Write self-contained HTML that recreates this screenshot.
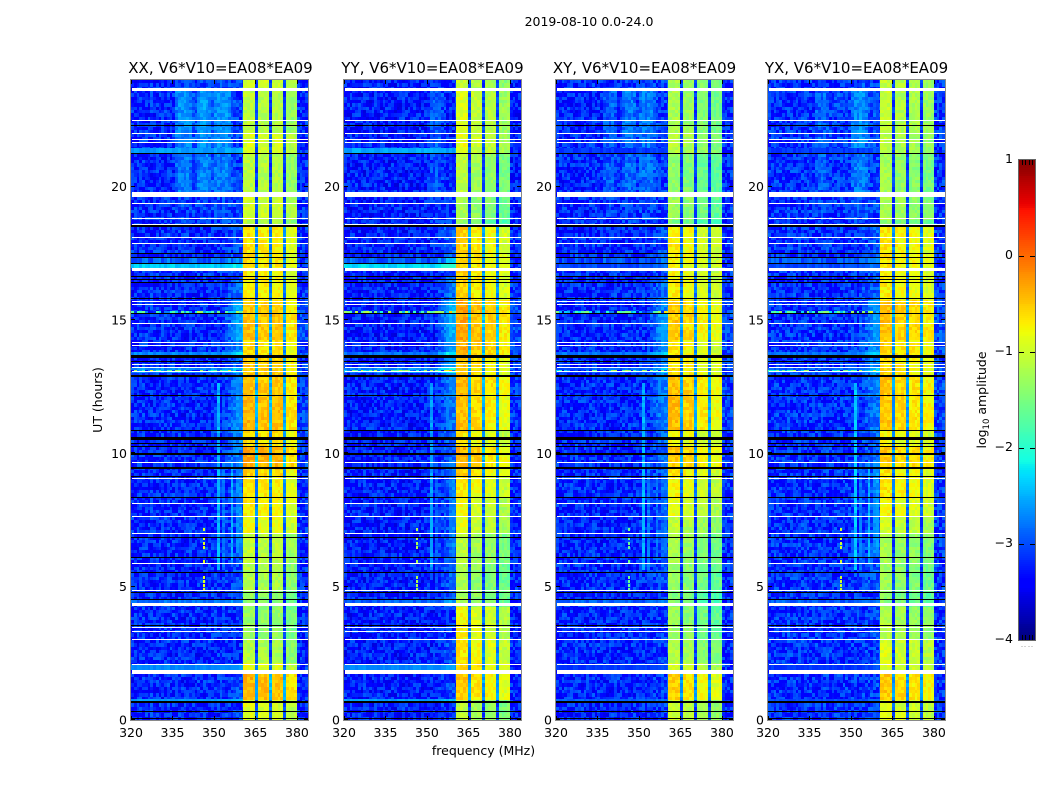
<!DOCTYPE html>
<html lang="en">
<head>
<meta charset="utf-8">
<title>2019-08-10 spectrogram</title>
<style>
html,body{margin:0;padding:0;background:#fff;}
svg{display:block;}
text{font-family:"DejaVu Sans","Liberation Sans",sans-serif;fill:#000;}
</style>
</head>
<body>
<svg id="chart" xmlns="http://www.w3.org/2000/svg" width="1050" height="800" viewBox="0 0 1050 800">
  <text x="589" y="26" font-size="12.5" text-anchor="middle">2019-08-10 0.0-24.0</text>
  <text x="483.5" y="755" font-size="12.5" text-anchor="middle">frequency (MHz)</text>
  <text transform="translate(102,400) rotate(-90)" font-size="12.5" text-anchor="middle">UT (hours)</text>
  <text transform="translate(986,400) rotate(-90)" font-size="12.5" text-anchor="middle">log<tspan font-size="8.5" dy="3">10</tspan><tspan dy="-3"> amplitude</tspan></text>
  <g id="panels"></g>
  <g id="colorbar"></g>
</svg>
<script>
/* ---------- chart values ---------- */
const panelTitles = ['XX, V6*V10=EA08*EA09','YY, V6*V10=EA08*EA09','XY, V6*V10=EA08*EA09','YX, V6*V10=EA08*EA09'];
const xTickLabels = [320,335,350,365,380];
const yTickLabels = [0,5,10,15,20];
const colorbarTicks = [1,0,-1,-2,-3,-4];
const colorMin = -4;
const colorMax = 1;
const freqMin = 320;
const freqMax = 384;
const hourMin = 0;
const hourMax = 24;

/* upper hour of every time segment */
const segmentTops = [0.72,1.73,2.09,3.03,4.28,4.9,5.9,7.0,7.64,8.35,9.1,9.5,10.3,10.85,12.16,12.9,13.6,14.2,15.3,15.8,16.5,17.0,18.5,18.8,19.6,21.2,22.0,23.6,24];

/* log10 amplitude of the 360-380 MHz band in each segment */
const bandLevelXX = [-0.95,-0.45,-0.9,-1.2,-1.35,-1.4,-1.2,-1.1,-0.85,-0.75,-0.7,-0.6,-0.4,-0.65,-0.45,-0.5,-0.55,-0.65,-0.5,-0.55,-0.75,-0.75,-0.7,-1.2,-1.0,-1.15,-0.95,-1.15,-1.0];
const bandLevelYY = [-1.2,-0.6,-0.65,-0.75,-0.85,-1.3,-1.3,-1.2,-0.95,-0.9,-0.75,-0.65,-0.5,-0.8,-0.55,-0.5,-0.6,-0.45,-0.4,-0.4,-0.65,-0.65,-0.65,-1.5,-1.3,-1.2,-0.95,-1.0,-1.1];
const bandLevelXY = [-1.1,-0.65,-1.0,-1.25,-1.4,-1.55,-1.4,-1.3,-1.15,-0.95,-0.85,-0.75,-0.6,-0.85,-0.55,-0.55,-0.7,-0.75,-0.6,-0.6,-0.8,-0.85,-0.8,-1.6,-1.4,-1.45,-1.2,-1.3,-1.3];
const bandLevelYX = [-0.95,-0.6,-1.0,-1.0,-1.25,-1.5,-1.4,-1.3,-1.05,-0.85,-0.75,-0.75,-0.6,-0.85,-0.6,-0.6,-0.7,-0.65,-0.55,-0.55,-0.8,-0.8,-0.75,-1.5,-1.3,-1.35,-1.2,-1.15,-1.15];

/* offset of the four sub-bands */
const subbandOffsetXX = [0.05,0,0,-0.2];
const subbandOffsetYY = [0.1,-0.05,-0.15,-0.3];
const subbandOffsetXY = [0.1,0,-0.15,-0.25];
const subbandOffsetYX = [0.1,0,-0.05,-0.15];

/* receiver floor per panel */
const floorLevel = [-3.2,-3.25,-3.2,-3.15];

/* rise below the band edge per segment */
const edgeHumpXX = [0.1,0.2,0.1,0,0,0.15,0.2,0.2,0.2,0.2,0.2,0.3,0.45,0.5,0.5,0.45,0.35,0.5,0.65,0.65,0.35,0.2,0.2,0.2,0.1,0.1,0.1,0.1,0.1];
const edgeHumpYY = [0.1,0.2,0.1,0.3,0.1,0.3,0.3,0.3,0.3,0.3,0.3,0.35,0.35,0.35,0.45,0.5,0.6,0.65,0.75,0.75,0.45,0.3,0.35,0.2,0.1,0,0,0,0];
const edgeHumpXY = [0.1,0.1,0.1,0.1,0.1,0.1,0.2,0.2,0.2,0.2,0.25,0.25,0.35,0.35,0.45,0.45,0.45,0.5,0.6,0.5,0.35,0.2,0.2,0.1,0.1,0.1,0.1,0.1,0.1];
const edgeHumpYX = [0.1,0.1,0.1,0.1,0.1,0.1,0.2,0.2,0.2,0.2,0.2,0.25,0.25,0.25,0.35,0.45,0.45,0.45,0.5,0.5,0.25,0.2,0.2,0.1,0.1,0.1,0.1,0.1,0.1];

/* strength of the broad interference stripes per segment */
const broadHumpBySegment = [0,0,0,0,0,0,0,0,0,0,0,0,0,0,0,0,0,0,0,0,0,0,0,0.2,0.3,0.8,0.9,1,0.25];

/* one entry per 1 MHz channel */
const channelKind = [0,0,0,0,0,0,0,0,0,0,0,0,0,0,0,0,0,0,0,0,0,0,0,0,0,0,0,0,0,0,0,0,0,0,0,0,0,0,0,0,0,1,1,1,1,5,2,2,2,2,5,3,3,3,3,5,4,4,4,4,0,0,0,0];
const edgeProfile = [0,0,0,0,0,0,0,0,0,0,0,0,0,0,0,0,0,0,0,0,0,0,0,0,0,0,0,0,0,0,0,0,0,0.1,0.3,0.5,0.7,0.9,1,1,1,0,0,0,0,0,0,0,0,0,0,0,0,0,0,0,0,0,0,0,0.3,0.35,0.35,0.3];
const stripeXX = [0,0,0,0,0,0,0,0,0,0,0,0,0,0,0,0,0.45,0.55,0.55,0.55,0.55,0.45,0.25,0.25,0.5,0.6,0.65,0.6,0.5,0.3,0.5,0.55,0.55,0.55,0.55,0.45,0.2,0.1,0,0,0,0,0,0,0,0,0,0,0,0,0,0,0,0,0,0,0,0,0,0,0,0,0,0];
const stripeYY = [0,0,0,0,0,0,0,0,0,0,0,0,0,0,0,0,0,0,0,0,0,0,0,0,0,0,0,0,0,0,0.05,0.25,0.35,0.35,0.3,0.2,0.15,0.05,0,0,0,0,0,0,0,0,0,0,0,0,0,0,0,0,0,0,0,0,0,0,0,0,0,0];
const stripeXY = [0,0,0,0,0,0,0,0,0,0,0,0,0,0,0,0,0,0.25,0.3,0.3,0.3,0.25,0.1,0.1,0.3,0.45,0.45,0.45,0.35,0.15,0.35,0.45,0.45,0.45,0.4,0.3,0.1,0,0,0,0,0,0,0,0,0,0,0,0,0,0,0,0,0,0,0,0,0,0,0,0,0,0,0];
const stripeYX = [0,0,0,0,0,0,0,0,0,0,0,0,0,0,0,0,0,0.2,0.25,0.25,0.25,0.2,0.1,0.05,0.05,0.1,0.1,0.1,0.1,0.05,0.3,0.45,0.5,0.5,0.45,0.35,0.1,0,0,0,0,0,0,0,0,0,0,0,0,0,0,0,0,0,0,0,0,0,0,0,0,0,0,0];

/* narrow vertical lines */
const lineChannels = [31,33,36,38,39];
const lineFromHour = [5.6,5.6,5.9,6.2,6.2];
const lineToHour = [12.6,9.6,9.6,9.6,9.6];
const lineLevelXX = [-2.5,-2.8,-2.5,-2.7,-2.7];
const lineLevelYY = [-2.6,-2.9,-3.0,-2.8,-2.7];
const lineLevelXY = [-2.5,-2.8,-2.8,-2.9,-2.8];
const lineLevelYX = [-2.4,-2.8,-2.5,-2.7,-2.6];

/* isolated interference spots */
const spotChannel = 26;
const spotHours = [4.85,5.0,5.12,5.3,5.9,6.4,6.55,6.75,7.1];
const spotLevel = [-0.9,-1.2,-1.6,-1.0];

/* full-width brighter rows below the band */
const brightFrom = [0.72,1.88,4.40,13.0,13.62,15.27,16.95,17.13,21.23,13.06];
const brightTo = [0.80,2.09,4.53,13.2,13.8,15.33,17.13,17.35,21.45,13.12];
const brightLevelXX = [-2.6,-2.7,-2.8,-2.7,-2.7,-2.4,-2.35,-2.9,-2.6,-2.2];
const brightLevelYY = [-2.6,-2.7,-2.9,-2.7,-2.8,-2.4,-2.3,-2.9,-2.55,-2.1];
const brightLevelXY = [-2.9,-3.1,-2.9,-2.9,-2.8,-2.5,-3.0,-3.0,-3.1,-2.4];
const brightLevelYX = [-3.0,-3.1,-2.9,-2.9,-2.8,-2.5,-3.0,-3.0,-3.1,-2.4];
const brightNoise = [0.2,0.2,0.4,0.4,0.3,3,0.3,0.6,0.25,3];

/* flagged intervals in hours */
const whiteFrom = [23.59,22.47,21.98,21.76,21.64,19.61,19.36,18.79,18.57,18.08,17.86,16.84,15.68,15.57,14.86,14.14,14.03,13.32,13.20,13.04,9.64,9.04,8.11,7.62,6.98,5.86,4.84,4.28,3.46,3.30,3.01,2.07,1.73];
const whiteTo = [23.70,22.51,22.02,21.80,21.68,19.81,19.40,18.83,18.61,18.12,17.90,16.95,15.72,15.61,14.90,14.18,14.07,13.36,13.24,13.08,9.68,9.08,8.15,7.66,7.02,5.90,4.88,4.40,3.50,3.34,3.05,2.11,1.88];
const blackFrom = [22.28,21.21,18.48,17.48,17.33,17.11,16.60,16.51,16.37,15.79,15.23,13.58,13.42,12.87,12.14,10.83,10.51,10.36,10.22,9.92,9.40,9.10,8.33,6.83,6.08,5.52,4.77,4.51,3.53,0.63,0.31,0.03];
const blackTo = [22.32,21.25,18.56,17.52,17.37,17.15,16.64,16.55,16.44,15.83,15.27,13.67,13.46,12.95,12.18,10.87,10.61,10.40,10.26,10.00,9.48,9.14,8.37,6.87,6.12,5.56,4.81,4.55,3.57,0.72,0.35,0.08];

/* hand-typed receiver-noise offsets used as cell texture */
const speckle = [0.12,-0.31,0.27,-0.08,0.38,-0.22,0.05,-0.41,0.19,0.33,-0.14,-0.36,0.09,0.24,-0.27,0.41,-0.05,-0.18,0.31,-0.39,0.16,0.02,-0.29,0.35,-0.11,0.21,-0.44,0.07,0.29,-0.2,0.14,-0.33,0.4,-0.02,-0.25,0.23,-0.37,0.1,0.34,-0.16,-0.06,0.26,-0.43,0.18,0.03,-0.23,0.37,-0.12,0.3,-0.35,0.08,0.2,-0.28,0.43,-0.09,-0.19,0.25,-0.4,0.13,0.01,-0.3];

const bandLevels = [bandLevelXX,bandLevelYY,bandLevelXY,bandLevelYX];
const subbandOffsets = [subbandOffsetXX,subbandOffsetYY,subbandOffsetXY,subbandOffsetYX];
const edgeHumps = [edgeHumpXX,edgeHumpYY,edgeHumpXY,edgeHumpYX];
const stripes = [stripeXX,stripeYY,stripeXY,stripeYX];
const lineLevels = [lineLevelXX,lineLevelYY,lineLevelXY,lineLevelYX];
const brightLevels = [brightLevelXX,brightLevelYY,brightLevelXY,brightLevelYX];

/* ---------- layout ---------- */
const NS = 'http://www.w3.org/2000/svg';
const plotLeft = [131,344,556,768];
const plotWidth = 177;
const plotTop = 80;
const plotBottom = 720;
const rowStep = 0.125;
const barLeft = 1019;
const barWidth = 16;
const barTop = 160;
const barBottom = 640;
const bandStartChannel = 41;
const bandStartMHz = 360.5;

function xScale(p,f){return plotLeft[p]+(f-freqMin)*plotWidth/(freqMax-freqMin);}
function yScale(h){return plotBottom-(h-hourMin)*(plotBottom-plotTop)/(hourMax-hourMin);}
function barScale(v){return barBottom-(v-colorMin)*(barBottom-barTop)/(colorMax-colorMin);}
function channelEdge(p,c){
  return Math.round(xScale(p,c===bandStartChannel?bandStartMHz:freqMin+c));
}

function ramp(t,stops){
  for(let i=1;i<stops.length;i++){
    if(t<=stops[i][0]){
      const a=stops[i-1],b=stops[i];
      return a[1]+(b[1]-a[1])*(t-a[0])/(b[0]-a[0]);
    }
  }
  return stops[stops.length-1][1];
}
const jetR=[[0,0],[0.35,0],[0.66,1],[0.89,1],[1,0.5]];
const jetG=[[0,0],[0.125,0],[0.375,1],[0.64,1],[0.91,0],[1,0]];
const jetB=[[0,0.5],[0.11,1],[0.34,1],[0.65,0],[1,0]];
const hex2=function(x){const s=Math.round(x*255).toString(16);return s.length<2?'0'+s:s;};
const palette=[];
for(let i=0;i<256;i++){
  const t=i/255;
  palette.push('#'+hex2(ramp(t,jetR))+hex2(ramp(t,jetG))+hex2(ramp(t,jetB)));
}
function colorFor(v){
  const t=Math.max(0,Math.min(1,(v-colorMin)/(colorMax-colorMin)));
  return palette[Math.floor(t*255)];
}
function segmentAt(h){
  for(let i=0;i<segmentTops.length;i++){if(h<segmentTops[i])return i;}
  return segmentTops.length-1;
}
function noiseAt(p,row,c){
  const r=row+p*53;
  return speckle[(r*r*7+c*c*c*3+r*c*11+c*5+r*3)%speckle.length];
}
function cellLevel(p,h,c,row){
  const s=segmentAt(h);
  const kind=channelKind[c];
  const n=noiseAt(p,row,c);
  if(kind>=1&&kind<=4){return bandLevels[p][s]+subbandOffsets[p][kind-1]+n*0.35;}
  if(kind===5){return Math.max(bandLevels[p][s]-2.0,-3.1)+n*0.4;}
  const hump=edgeHumps[p][s]*edgeProfile[c]+broadHumpBySegment[s]*stripes[p][c];
  let v=floorLevel[p]+n*0.8*(1-0.6*Math.min(1,hump*1.5))+hump;
  const li=lineChannels.indexOf(c);
  if(li>=0&&h>=lineFromHour[li]&&h<lineToHour[li]){v=Math.max(v,lineLevels[p][li]+n*0.3);}
  return v;
}

const panelsGroup=document.getElementById('panels');
const colorbarGroup=document.getElementById('colorbar');

function addCell(parent,p,x0,x1,y0,y1,fill){
  const r=document.createElementNS(NS,'rect');
  
  
  r.setAttribute('x',x0);
  r.setAttribute('y',y0);
  r.setAttribute('width',Math.max(1,x1-x0));
  r.setAttribute('height',Math.max(1,y1-y0));
  r.setAttribute('fill',fill);
  parent.appendChild(r);
}

panelTitles.forEach(function(title,p){
  const g=document.createElementNS(NS,'g');
  
  
  g.setAttribute('shape-rendering','crispEdges');

  const heat=document.createDocumentFragment();
  const rows=Math.round((hourMax-hourMin)/rowStep);
  const cols=freqMax-freqMin;
  for(let row=0;row<rows;row++){
    const h=hourMin+row*rowStep;
    const yTop=Math.round(yScale(h+rowStep));
    const yBot=Math.round(yScale(h));
    for(let c=0;c<cols;c++){
      addCell(heat,p,channelEdge(p,c),channelEdge(p,c+1),yTop,yBot,colorFor(cellLevel(p,h+rowStep/2,c,row)));
    }
  }
  /* brighter rows below the band */
  brightFrom.forEach(function(from,i){
    const yTop=Math.round(yScale(brightTo[i]));
    const yBot=Math.round(yScale(from));
    for(let c=0;c<cols;c++){
      if(channelKind[c]!==0||c>=60){continue;}
      const edge=edgeHumps[p][segmentAt(from)]*edgeProfile[c];
      addCell(heat,p,channelEdge(p,c),channelEdge(p,c+1),yTop,yBot,colorFor(brightLevels[p][i]+edge+noiseAt(p,i*7+3,c)*brightNoise[i]));
    }
  });
  /* isolated spots */
  spotHours.forEach(function(h){
    const y=Math.round(yScale(h));
    const x0=Math.round(xScale(p,freqMin+spotChannel));
    addCell(heat,p,x0,x0+2,y-3,y,colorFor(spotLevel[p]));
  });
  g.appendChild(heat);

  /* flagged rows */
  whiteFrom.forEach(function(from,i){
    const r=document.createElementNS(NS,'rect');
    
    
    r.setAttribute('x',plotLeft[p]+1);
    r.setAttribute('y',Math.round(yScale(whiteTo[i])));
    r.setAttribute('width',plotWidth-1);
    r.setAttribute('height',Math.max(1,Math.round(yScale(from))-Math.round(yScale(whiteTo[i]))));
    r.setAttribute('fill','#fff');
    g.appendChild(r);
  });
  blackFrom.forEach(function(from,i){
    const r=document.createElementNS(NS,'rect');
    
    
    r.setAttribute('x',plotLeft[p]);
    r.setAttribute('y',Math.round(yScale(blackTo[i])));
    r.setAttribute('width',plotWidth);
    r.setAttribute('height',Math.max(1,Math.round(yScale(from))-Math.round(yScale(blackTo[i]))));
    r.setAttribute('fill','#000');
    g.appendChild(r);
  });

  /* frame */
  const frame=document.createElementNS(NS,'rect');
  
  
  frame.setAttribute('x',plotLeft[p]-0.5);
  frame.setAttribute('y',plotTop-0.5);
  frame.setAttribute('width',plotWidth+1);
  frame.setAttribute('height',plotBottom-plotTop+1);
  frame.setAttribute('fill','none');
  frame.setAttribute('stroke','#8a8a8a');
  g.appendChild(frame);

  /* ticks and tick labels */
  xTickLabels.forEach(function(f){
    const x=Math.round(xScale(p,f))+0.5;
    [[plotBottom,plotBottom-4],[plotTop,plotTop+4]].forEach(function(e){
      const t=document.createElementNS(NS,'line');
      
      
      t.setAttribute('x1',x);t.setAttribute('x2',x);
      t.setAttribute('y1',e[0]);t.setAttribute('y2',e[1]);
      t.setAttribute('stroke','#000');
      g.appendChild(t);
    });
    const lab=document.createElementNS(NS,'text');
    
    
    lab.setAttribute('x',xScale(p,f));
    lab.setAttribute('y',737);
    lab.setAttribute('font-size','12.5');
    lab.setAttribute('text-anchor','middle');
    lab.textContent=String(f);
    g.appendChild(lab);
  });
  yTickLabels.forEach(function(h){
    const y=Math.round(yScale(h))-0.5;
    [[plotLeft[p],plotLeft[p]+4],[plotLeft[p]+plotWidth,plotLeft[p]+plotWidth-4]].forEach(function(e){
      const t=document.createElementNS(NS,'line');
      
      
      t.setAttribute('x1',e[0]);t.setAttribute('x2',e[1]);
      t.setAttribute('y1',y);t.setAttribute('y2',y);
      t.setAttribute('stroke','#000');
      g.appendChild(t);
    });
    const lab=document.createElementNS(NS,'text');
    
    
    lab.setAttribute('x',plotLeft[p]-4);
    lab.setAttribute('y',yScale(h)+4.5);
    lab.setAttribute('font-size','12.5');
    lab.setAttribute('text-anchor','end');
    lab.textContent=String(h);
    g.appendChild(lab);
  });

  const ttl=document.createElementNS(NS,'text');
  
  
  ttl.setAttribute('x',plotLeft[p]+plotWidth/2+(p===0?1:0));
  ttl.setAttribute('y',73);
  ttl.setAttribute('font-size','15');
  ttl.setAttribute('text-anchor','middle');
  ttl.textContent=title;
  g.appendChild(ttl);

  panelsGroup.appendChild(g);
});

/* ---------- colorbar ---------- */
(function(){
  const steps=240;
  const stepHeight=(barBottom-barTop)/steps;
  for(let i=0;i<steps;i++){
    const v=colorMin+(i+0.5)*(colorMax-colorMin)/steps;
    const r=document.createElementNS(NS,'rect');
    
    
    r.setAttribute('x',barLeft);
    r.setAttribute('y',barScale(v)-stepHeight/2);
    r.setAttribute('width',barWidth);
    r.setAttribute('height',stepHeight);
    r.setAttribute('fill',colorFor(v));
    r.setAttribute('shape-rendering','crispEdges');
    colorbarGroup.appendChild(r);
  }
  colorbarTicks.forEach(function(v){
    const y=Math.round(barScale(v))+0.5;
    if(v>colorMin&&v<colorMax){
      [[barLeft,barLeft+5],[barLeft+barWidth,barLeft+barWidth-5]].forEach(function(e){
        const t=document.createElementNS(NS,'line');
        
        
        t.setAttribute('x1',e[0]);t.setAttribute('x2',e[1]);
        t.setAttribute('y1',y);t.setAttribute('y2',y);
        t.setAttribute('stroke','#000');
        colorbarGroup.appendChild(t);
      });
    }
    const lab=document.createElementNS(NS,'text');
    
    
    lab.setAttribute('x',1013);
    lab.setAttribute('y',barScale(v)+3);
    lab.setAttribute('font-size','12.5');
    lab.setAttribute('text-anchor','end');
    lab.textContent=(v<0?'\u2212'+Math.abs(v):String(v));
    colorbarGroup.appendChild(lab);
  });
  [0.2,0.4,0.6,0.8].forEach(function(frac){
    const x=Math.round(barLeft+frac*barWidth)+0.5;
    [[barTop,barTop+5],[barBottom,barBottom-5]].forEach(function(e){
      const t=document.createElementNS(NS,'line');
      
      
      t.setAttribute('x1',x);t.setAttribute('x2',x);
      t.setAttribute('y1',e[0]);t.setAttribute('y2',e[1]);
      t.setAttribute('stroke','#000');
      colorbarGroup.appendChild(t);
    });
    const dot=document.createElementNS(NS,'rect');
    
    
    dot.setAttribute('x',x-1);
    dot.setAttribute('y',646);
    dot.setAttribute('width',1);
    dot.setAttribute('height',1);
    dot.setAttribute('fill','#aaa');
    colorbarGroup.appendChild(dot);
  });
  const frame=document.createElementNS(NS,'rect');
  
  
  frame.setAttribute('x',barLeft-0.5);
  frame.setAttribute('y',barTop-0.5);
  frame.setAttribute('width',barWidth+1);
  frame.setAttribute('height',barBottom-barTop+1);
  frame.setAttribute('fill','none');
  frame.setAttribute('stroke','#666');
  colorbarGroup.appendChild(frame);
})();
</script>
</body>
</html>
